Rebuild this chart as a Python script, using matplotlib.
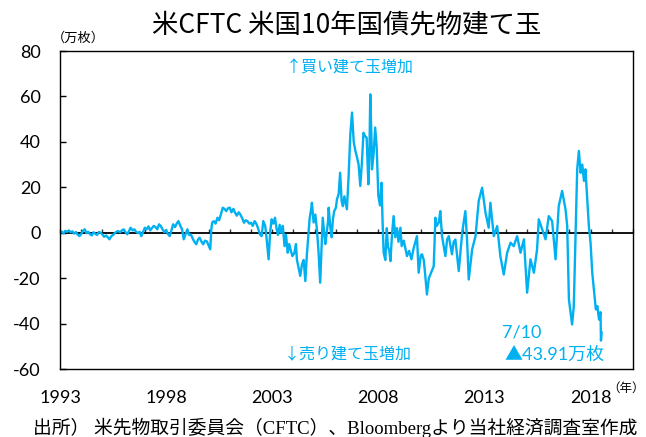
import matplotlib
matplotlib.use("Agg")
import matplotlib.pyplot as plt

# CFTC net position, US 10y T-note futures (10k contracts)
t_year = [
    1993.00, 1993.08, 1993.17, 1993.25, 1993.33, 1993.42, 1993.50, 1993.58, 1993.67, 1993.75,
    1993.83, 1993.92, 1994.00, 1994.08, 1994.17, 1994.25, 1994.33, 1994.42, 1994.50, 1994.58,
    1994.67, 1994.75, 1994.83, 1994.92, 1995.00, 1995.08, 1995.17, 1995.25, 1995.33, 1995.42,
    1995.50, 1995.58, 1995.67, 1995.75, 1995.83, 1995.92, 1996.00, 1996.08, 1996.17, 1996.25,
    1996.33, 1996.42, 1996.50, 1996.58, 1996.67, 1996.75, 1996.83, 1996.92, 1997.00, 1997.08,
    1997.17, 1997.25, 1997.33, 1997.42, 1997.50, 1997.58, 1997.67, 1997.75, 1997.83, 1997.92,
    1998.00, 1998.08, 1998.17, 1998.25, 1998.33, 1998.42, 1998.50, 1998.58, 1998.67, 1998.75,
    1998.83, 1998.92, 1999.00, 1999.08, 1999.17, 1999.25, 1999.33, 1999.42, 1999.50, 1999.58,
    1999.67, 1999.75, 1999.83, 1999.92, 2000.00, 2000.08, 2000.13, 2000.17, 2000.25, 2000.33,
    2000.42, 2000.50, 2000.58, 2000.67, 2000.75, 2000.83, 2000.92, 2001.00, 2001.08, 2001.17,
    2001.25, 2001.33, 2001.42, 2001.50, 2001.58, 2001.67, 2001.75, 2001.83, 2001.92, 2002.00,
    2002.08, 2002.17, 2002.25, 2002.33, 2002.42, 2002.50, 2002.58, 2002.67, 2002.75, 2002.83,
    2002.90, 2002.97, 2003.05, 2003.13, 2003.20, 2003.27, 2003.35, 2003.42, 2003.50, 2003.58,
    2003.65, 2003.73, 2003.80, 2003.88, 2003.95, 2004.04, 2004.12, 2004.16, 2004.28, 2004.32,
    2004.40, 2004.48, 2004.56, 2004.63, 2004.70, 2004.76, 2004.85, 2004.87, 2004.95, 2005.03,
    2005.10, 2005.18, 2005.26, 2005.33, 2005.38, 2005.45, 2005.50, 2005.55, 2005.63, 2005.66,
    2005.73, 2005.80, 2005.86, 2005.92, 2006.00, 2006.05, 2006.13, 2006.20, 2006.27, 2006.33,
    2006.40, 2006.52, 2006.60, 2006.68, 2006.76, 2006.84, 2006.92, 2007.00, 2007.07, 2007.15,
    2007.22, 2007.30, 2007.38, 2007.45, 2007.53, 2007.58, 2007.62, 2007.68, 2007.70, 2007.78,
    2007.85, 2007.92, 2008.00, 2008.08, 2008.15, 2008.20, 2008.25, 2008.33, 2008.40, 2008.45,
    2008.52, 2008.57, 2008.65, 2008.72, 2008.80, 2008.88, 2008.95, 2009.04, 2009.10, 2009.20,
    2009.35, 2009.45, 2009.56, 2009.66, 2009.82, 2009.90, 2010.00, 2010.06, 2010.14, 2010.20,
    2010.29, 2010.38, 2010.47, 2010.61, 2010.69, 2010.75, 2010.85, 2010.92, 2011.00, 2011.16,
    2011.24, 2011.32, 2011.47, 2011.55, 2011.63, 2011.79, 2011.95, 2012.10, 2012.18, 2012.26,
    2012.42, 2012.58, 2012.73, 2012.89, 2013.05, 2013.20, 2013.28, 2013.44, 2013.60, 2013.75,
    2013.91, 2014.07, 2014.23, 2014.38, 2014.54, 2014.70, 2014.86, 2015.01, 2015.17, 2015.33,
    2015.48, 2015.56, 2015.72, 2015.88, 2016.03, 2016.19, 2016.35, 2016.50, 2016.66, 2016.82,
    2016.90, 2016.98, 2017.13, 2017.21, 2017.29, 2017.37, 2017.45, 2017.53, 2017.61, 2017.69,
    2017.76, 2017.92, 2018.00, 2018.08, 2018.16, 2018.25, 2018.32, 2018.40, 2018.47, 2018.49,
    2018.52,
]
net_pos = [
    0.0, 0.5, -0.3, 0.8, 0.4, 1.0, 0.2, 0.6, -0.4, 0.3,
    -0.8, -1.5, -0.5, 0.8, 1.5, -0.2, 0.4, -0.7, -1.2, 0.2,
    -0.5, -1.0, 0.3, 0.0, -0.8, -1.8, -1.2, -2.0, -2.9, -1.5,
    -1.0, -0.2, 0.5, 0.7, 0.2, 1.0, 1.5, 0.3, -0.7, 0.8,
    2.2, 1.0, 1.5, 0.5, -0.2, 0.4, -1.5, 0.5, 2.2, 1.5,
    2.8, 1.0, 2.0, 3.0, 2.5, 1.5, 3.7, 2.9, 1.5, 0.2,
    1.2, -0.5, -1.5, 1.0, 3.7, 2.5, 4.0, 5.1, 3.0, 1.5,
    -2.9, -0.5, 1.5, -1.0, -0.8, -2.5, -4.0, -5.1, -3.0, -2.2,
    -4.0, -5.1, -3.5, -3.8, -5.5, -7.3, 1.5, 4.5, 5.1, 4.0,
    6.6, 5.5, 8.0, 11.0, 10.5, 9.5, 10.8, 11.0, 9.0, 10.5,
    8.8, 7.5, 9.0, 8.0, 6.5, 4.4, 5.5, 5.1, 4.0, 4.4,
    3.0, 5.1, 4.0, 2.0, -0.7, -1.5, 5.1, 3.0, -4.0, -11.7,
    0.0, 5.9, 4.0, 6.6, 2.0, -1.0, 3.5, 0.0, 3.0, -5.9,
    -1.0, -8.8, -5.0, -8.0, -10.3, -9.0, -5.0, -11.7, -17.0, -19.0,
    -14.0, -12.0, -21.3, -10.0, -1.5, 6.0, 11.5, 13.2, 4.5, 8.0,
    2.0, -8.0, -22.0, -5.0, 6.6, 0.0, -5.0, -1.5, 5.0, 11.0,
    3.0, -2.0, 6.0, 9.5, 11.0, 14.7, 17.0, 26.4, 14.0, 11.7,
    16.0, 10.3, 25.0, 43.3, 52.9, 40.0, 36.0, 33.0, 30.0, 20.6,
    30.0, 44.0, 42.5, 41.8, 21.3, 35.0, 60.9, 40.0, 27.9, 35.0,
    46.3, 38.0, 16.2, 12.0, 22.0, 5.0, -8.8, -12.0, 2.0, -6.0,
    -8.0, -12.5, 0.0, 7.3, -2.0, 2.0, -4.0, 2.2, -5.9, -3.5,
    -10.3, -8.0, -11.7, -7.0, -1.5, -17.6, -10.0, -9.5, -12.0, -17.6,
    -27.2, -20.0, -18.0, -14.7, 6.6, 3.0, 4.5, 9.5, -1.5, -10.3,
    -3.0, -1.5, -9.5, -4.0, -3.0, -16.9, 0.0, 9.5, -3.0, -20.6,
    -7.3, -1.5, 14.0, 19.8, 8.8, 2.2, 13.2, -1.5, 2.9, -10.3,
    -18.4, -8.8, -4.4, -5.9, -1.5, -8.8, -2.9, -26.4, -11.7, -17.6,
    -7.3, 5.9, 1.5, -2.9, 7.3, 5.1, -11.7, 11.7, 18.4, 10.3,
    2.9, -29.4, -40.4, -32.3, -2.9, 27.9, 36.0, 26.4, 30.0, 22.8,
    27.9, 2.9, -4.4, -17.6, -25.0, -33.8, -32.3, -38.2, -35.0, -47.5,
    -43.91,
]

year_labels = [1993, 1998, 2003, 2008, 2013, 2018]
year_ticks = list(range(1993, 2021))
y_ticks = [80, 60, 40, 20, 0, -20, -40, -60]

BLUE = '#00b0f0'
num_font = ['Lato', 'Noto Sans CJK JP']
jp_font = ['Noto Sans CJK JP', 'DejaVu Sans']

fig = plt.figure(figsize=(6.46, 4.37), dpi=100)
ax = fig.add_axes([60 / 646, 68 / 437, 573 / 646, 318 / 437])

ax.axhline(0, color='black', lw=1.3, zorder=1)
ax.plot(t_year, net_pos, color=BLUE, lw=1.7, zorder=2)

ax.set_xlim(1993, 2020)
ax.set_ylim(-60, 80)
ax.set_yticks(y_ticks)
ax.set_yticklabels([str(v) for v in y_ticks], family=num_font, fontsize=13)
ax.set_xticks(year_labels)
ax.set_xticklabels([str(v) for v in year_labels], family=num_font, fontsize=13)
ax.tick_params(axis='x', length=0, pad=15)
ax.tick_params(axis='y', direction='in', length=4.5, width=1, pad=14)
for sp in ax.spines.values():
    sp.set_linewidth(1.0)

# year ticks sitting on the zero line
sec = ax.secondary_xaxis(60 / 140)
sec.set_xticks(year_ticks)
sec.tick_params(direction='in', length=3, width=1, labelbottom=False, color='#333333')
sec.spines['bottom'].set_visible(False)

# positions below are in pixels of the 646x437 picture
def ax_xy(px, py):
    return (px - 60) / 573, (369 - py) / 318

fig.text(347 / 646, 1 - 25 / 437, '米CFTC 米国10年国債先物建て玉', family=jp_font, fontsize=19,
         ha='center', va='center')
fig.text(78 / 646, 1 - 38 / 437, '（万枚）', family=jp_font, fontsize=9.5,
         ha='center', va='center')
fig.text(626 / 646, 1 - 388 / 437, '（年）', family=jp_font, fontsize=9,
         ha='center', va='center')

ax.text(*ax_xy(350, 68), '↑買い建て玉増加', transform=ax.transAxes,
        family=jp_font, fontsize=11.5, color=BLUE, ha='center', va='center')
ax.text(*ax_xy(348, 355), '↓売り建て玉増加', transform=ax.transAxes,
        family=jp_font, fontsize=11.5, color=BLUE, ha='center', va='center')
ax.text(*ax_xy(522, 332), '7/10', transform=ax.transAxes,
        family=num_font, fontsize=13, color=BLUE, ha='center', va='center')
ax.text(*ax_xy(555, 355), '▲43.91万枚', transform=ax.transAxes,
        family=num_font, fontsize=13, color=BLUE, ha='center', va='center')

fig.text(335 / 646, 1 - 428 / 437,
         '出所） 米先物取引委員会（CFTC）、Bloombergより当社経済調査室作成',
         family=['Liberation Serif', 'Noto Sans CJK JP'], fontsize=13.5,
         ha='center', va='center')

fig.savefig('out.png', dpi=100)
